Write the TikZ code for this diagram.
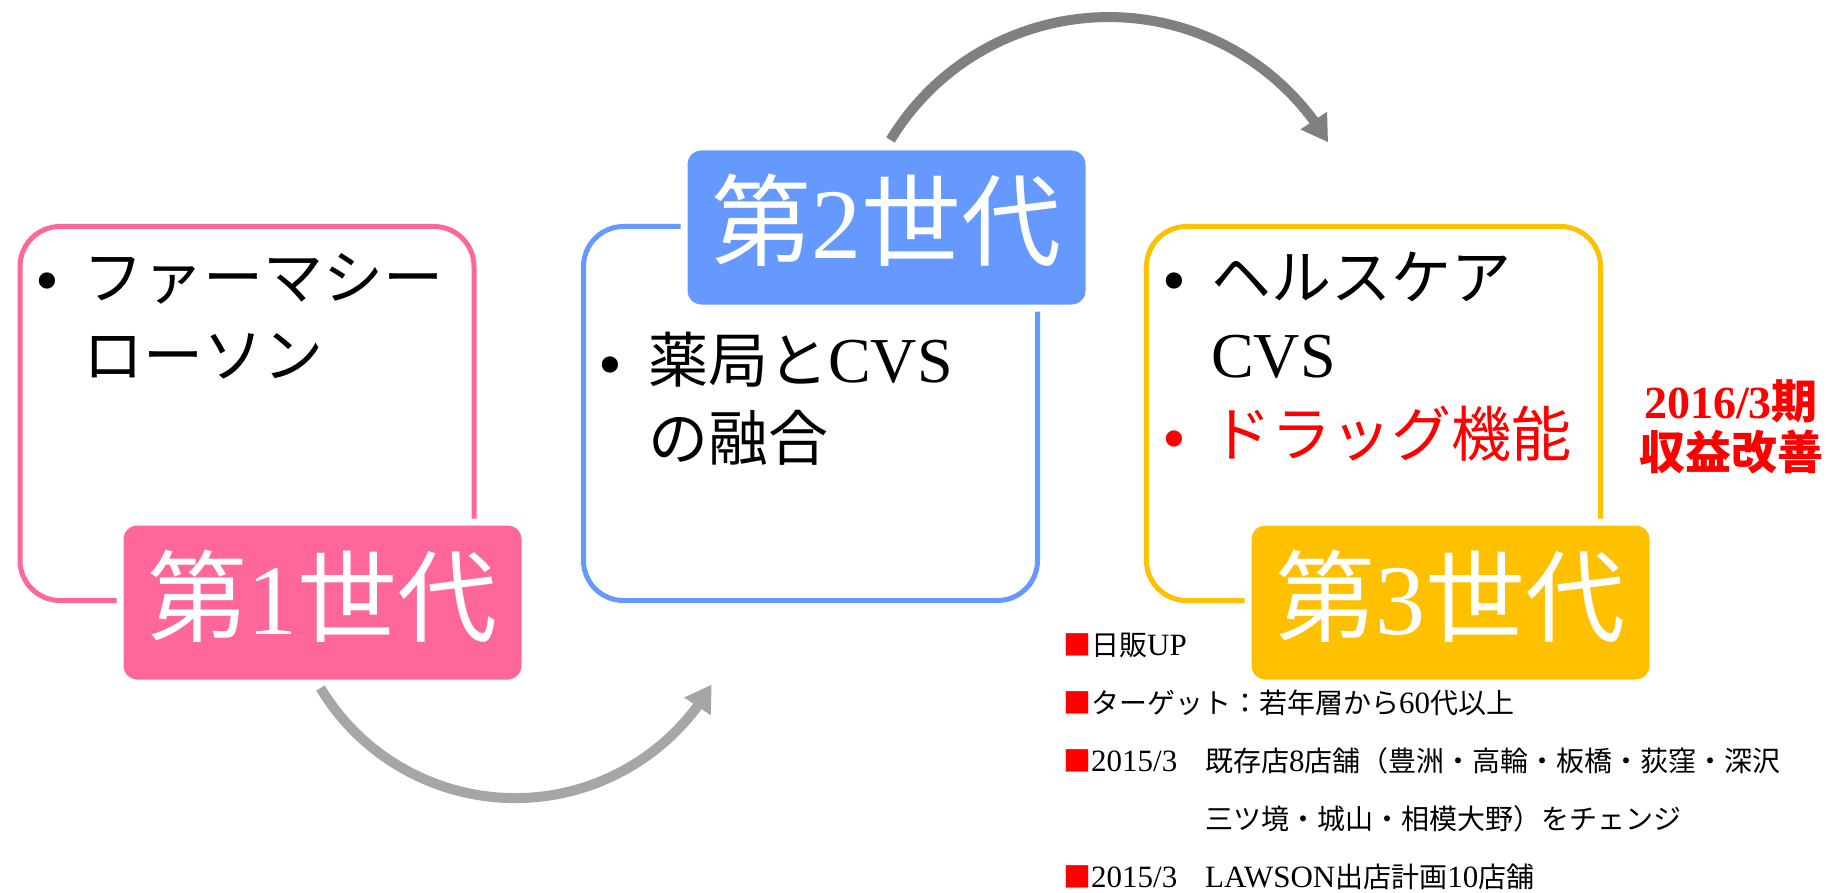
\documentclass[tikz,border=0pt]{standalone}
\usepackage{fontspec}
\setmainfont{Liberation Serif}
\newfontfamily\jp{Noto Sans CJK JP}
\usetikzlibrary{arrows.meta,bending}
\definecolor{cpink}{HTML}{FF6699}
\definecolor{cblue}{HTML}{6699FF}
\definecolor{cyel}{HTML}{FFC000}
\definecolor{agray}{HTML}{808080}
\definecolor{lgray}{HTML}{A6A6A6}
\definecolor{cred}{HTML}{FF0000}
\newcommand\J[1]{{\jp #1}}
\newcommand\Jb[1]{{\jp\fontsize{60}{78}\selectfont #1}}
\newcommand\Jn[1]{{\jp\fontsize{28}{34}\selectfont #1}}
\begin{document}
\begin{tikzpicture}[x=1pt,y=-1pt,
  genbox/.style={draw=#1, line width=5pt, rounded corners=40pt, minimum width=454pt, minimum height=374pt, inner sep=0pt, anchor=north west},
  genlabel/.style={fill=#1, draw=white, line width=7pt, rounded corners=17pt, minimum width=405pt, minimum height=161pt, inner sep=0pt, anchor=north west, text=white, font=\fontsize{100}{110}\selectfont, text height=70pt, text depth=7pt},
  item/.style={anchor=base west, inner sep=0pt, font=\fontsize{64}{78}\selectfont},
  bul/.style={anchor=base, inner sep=0pt, font=\fontsize{68}{70}\selectfont},
  note/.style={anchor=base west, inner sep=0pt, font=\fontsize{31}{34}\selectfont},
  gain/.style={anchor=base, inner sep=0pt, text=cred, font=\bfseries\fontsize{46}{50}\selectfont},
  cyc/.style={draw=#1, line width=10pt, -{Triangle[length=26pt,width=30pt]}}
]
\fill[white] (0,0) rectangle (1836,893);
\useasboundingbox (0,0) rectangle (1836,893);

% outline boxes
\node[genbox=cpink] (b1) at (17.5,224) {};
\node[genbox=cblue] (b2) at (581,224) {};
\node[genbox=cyel]  (b3) at (1144,224) {};

% generation labels
\node[genlabel=cpink] (l1) at (116.5,518.5) {\J{第}1\J{世代}};
\node[genlabel=cblue] (l2) at (680.5,143.5) {\J{第}2\J{世代}};
\node[genlabel=cyel]  (l3) at (1244.5,518.5) {\J{第}3\J{世代}};

% box 1 text
\node[bul] (b1u1) at (47,304) {•};
\node[item] (b1t1) at (83,299) {\Jb{ファーマシー}};
\node[item] (b1t2) at (83,377) {\Jb{ローソン}};

% box 2 text
\node[bul] (b2u1) at (610,387) {•};
\node[item] (b2t1) at (648,382) {\Jb{薬局と}CVS};
\node[item] (b2t2) at (648,460) {\Jb{の融合}};

% box 3 text
\node[bul] (b3u1) at (1174,304) {•};
\node[item] (b3t1) at (1211,299) {\Jb{ヘルスケア}};
\node[item] (b3t2) at (1211,377) {CVS};
\node[bul, text=cred] (b3u2) at (1174,461) {•};
\node[item, text=cred] (b3t3) at (1211,456) {\Jb{ドラッグ機能}};

% profit note
\node[gain] (g1) at (1731,418) {2016/3\J{期}};
\node[gain] (g2) at (1731,469) {\J{収益改善}};

% bullet notes
\node[note] (n1) at (1063,655) {\textcolor{cred}{\Jn{■}}\Jn{日販}UP};
\node[note] (n2) at (1063,713) {\textcolor{cred}{\Jn{■}}\Jn{ターゲット：若年層から}60\Jn{代以上}};
\node[note] (n3a) at (1063,771) {\textcolor{cred}{\Jn{■}}2015/3};
\node[note] (n3b) at (1205,771) {\Jn{既存店}8\Jn{店舗（豊洲・高輪・板橋・荻窪・深沢}};
\node[note] (n4) at (1205,829) {\Jn{三ツ境・城山・相模大野）をチェンジ}};
\node[note] (n5a) at (1063,887) {\textcolor{cred}{\Jn{■}}2015/3};
\node[note] (n5b) at (1205,887) {LAWSON\Jn{出店計画}10\Jn{店舗}};

% cycle arrows
\draw[cyc=lgray] ([xshift=-2pt,yshift=-1.5pt]l1.south) arc[start angle=149, end angle=30, radius=227];
\draw[cyc=agray] ([xshift=4pt,yshift=3.5pt]l2.north) arc[start angle=211.2, end angle=329.4, radius=255];
\end{tikzpicture}
\end{document}
